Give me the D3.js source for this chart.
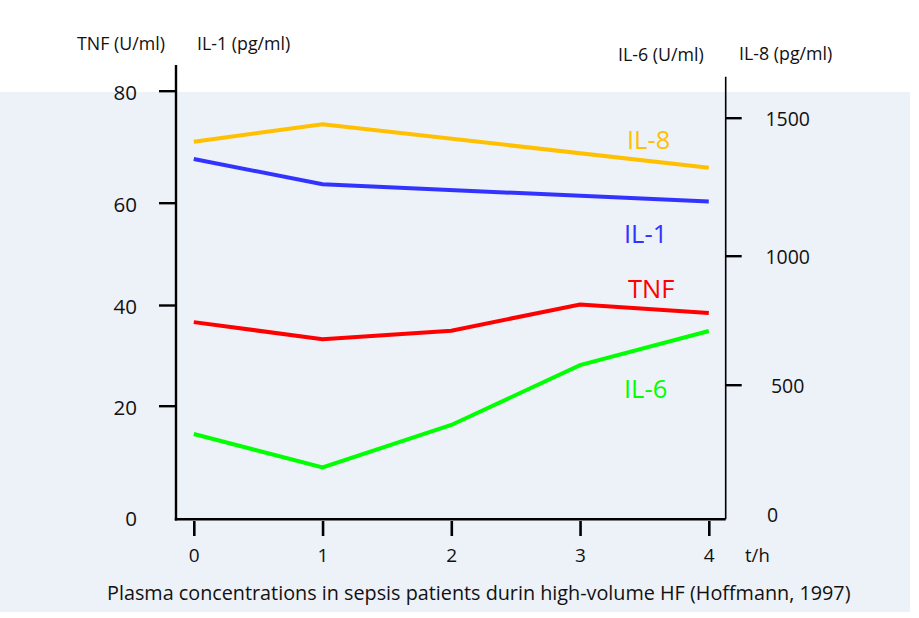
<!DOCTYPE html>
<html>
<head>
<meta charset="utf-8">
<script src="https://cdn.jsdelivr.net/npm/d3@7"></script>
<style>
  html, body { margin: 0; padding: 0; background: #ffffff; }
  svg { display: block; font-family: "Open Sans", "Noto Sans", sans-serif; }
</style>
</head>
<body>
<svg id="chart" width="919" height="618"></svg>
<script>
// ---- data ----
const hours = [0, 1, 2, 3, 4];
const xTickLabels = ["0", "1", "2", "3", "4"];
const leftTicks = [0, 20, 40, 60, 80];
const rightTicks = [0, 500, 1000, 1500];

const tnfHours = [0, 1, 2, 3, 4];
const tnfValues = [36.6, 33.2, 34.9, 40.1, 38.4];      // U/ml, left axis
const il1Hours = [0, 1, 4];
const il1Values = [67.8, 63.3, 60.2];                  // pg/ml, left axis
const il6Hours = [0, 1, 2, 3, 4];
const il6Values = [308, 178, 343, 576, 708];           // U/ml, right axis
const il8Hours = [0, 1, 4];
const il8Values = [1413, 1476, 1319];                  // pg/ml, right axis

const seriesNames = ["IL-8", "IL-1", "TNF", "IL-6"];
const caption = "Plasma concentrations in sepsis patients durin high-volume HF (Hoffmann, 1997)";

// ---- layout ----
const svg = d3.select("#chart");
const colors = { "IL-8": "#ffc000", "IL-1": "#3333ff", "TNF": "#ff0000", "IL-6": "#00ff00" };

svg.append("rect").attr("x", 0).attr("y", 92).attr("width", 910).attr("height", 520).attr("fill", "#edf1f8");

const x = d3.scaleLinear().domain([0, 4]).range([193.8, 708.8]);
const yL = d3.scaleLinear().domain(leftTicks).range([517, 405.7, 305, 202.7, 90.7]);
const yR = d3.scaleLinear().domain(rightTicks).range([513, 384.7, 255.7, 117.7]);

const leftX = 176, rightX = 725.7, baseY = 519.3;

// axis lines
svg.append("line").attr("x1", leftX).attr("x2", leftX).attr("y1", 65).attr("y2", baseY + 1.2)
  .attr("stroke", "#000").attr("stroke-width", 2.4);
svg.append("line").attr("x1", leftX - 1.2).attr("x2", rightX).attr("y1", baseY).attr("y2", baseY)
  .attr("stroke", "#000").attr("stroke-width", 2.4);
svg.append("line").attr("x1", rightX).attr("x2", rightX).attr("y1", 76.7).attr("y2", baseY)
  .attr("stroke", "#000").attr("stroke-width", 1.6);

// left axis
const gL = svg.append("g").attr("transform", `translate(${leftX},0)`)
  .call(d3.axisLeft(yL).tickValues(leftTicks).tickSize(17).tickPadding(22).tickFormat(d3.format("d")));
gL.select(".domain").remove();
gL.selectAll(".tick line").attr("stroke", "#000").attr("stroke-width", 2.4)
  .filter(d => d === 0).remove();
gL.selectAll(".tick text").attr("font-size", 20.5).attr("fill", "#111").attr("font-family", "Open Sans")
  .attr("dy", "0.42em");

// right axis
const gR = svg.append("g").attr("transform", `translate(${rightX},0)`)
  .call(d3.axisRight(yR).tickValues(rightTicks).tickSize(16).tickFormat(d3.format("d")));
gR.select(".domain").remove();
gR.selectAll(".tick line").attr("stroke", "#000").attr("stroke-width", 2.4)
  .filter(d => d === 0).remove();
gR.selectAll(".tick text").attr("font-size", 19.5).attr("fill", "#111").attr("font-family", "Open Sans")
  .attr("text-anchor", "middle").attr("x", d => d === 0 ? 47 : 62).attr("dy", "0.42em");

// bottom axis
const gB = svg.append("g").attr("transform", `translate(0,521)`)
  .call(d3.axisBottom(x).tickValues(hours).tickSize(15).tickFormat((d, i) => xTickLabels[i]));
gB.select(".domain").remove();
gB.selectAll(".tick line").attr("stroke", "#000").attr("stroke-width", 2.6);
gB.selectAll(".tick text").attr("font-size", 19).attr("fill", "#111").attr("font-family", "Open Sans")
  .attr("y", 34).attr("dy", "0.36em");

svg.append("text").attr("x", 745).attr("y", 555).attr("dy", "0.36em").attr("font-size", 18.5)
  .attr("fill", "#111").text("t/h");

// axis titles
const titles = [
  { t: "TNF (U/ml)", x: 77, y: 44 },
  { t: "IL-1 (pg/ml)", x: 197, y: 44 },
  { t: "IL-6 (U/ml)", x: 618, y: 55 },
  { t: "IL-8 (pg/ml)", x: 739, y: 54 }
];
svg.selectAll("text.title").data(titles).enter().append("text").attr("class", "title")
  .attr("x", d => d.x).attr("y", d => d.y).attr("dy", "0.36em")
  .attr("font-size", 17.8).attr("fill", "#111").text(d => d.t);

// lines
const series = [
  { name: "IL-8", hrs: il8Hours, vals: il8Values, y: yR },
  { name: "IL-1", hrs: il1Hours, vals: il1Values, y: yL },
  { name: "TNF", hrs: tnfHours, vals: tnfValues, y: yL },
  { name: "IL-6", hrs: il6Hours, vals: il6Values, y: yR }
];
series.forEach(s => {
  const pts = s.hrs.map((h, i) => [h, s.vals[i]]);
  svg.append("path").datum(pts)
    .attr("fill", "none").attr("stroke", colors[s.name]).attr("stroke-width", 4)
    .attr("stroke-linejoin", "miter")
    .attr("d", d3.line().x(d => x(d[0])).y(d => s.y(d[1])));
});

// series labels
const labelPos = { "IL-8": [627, 140], "IL-1": [624, 234], "TNF": [628, 289], "IL-6": [624, 389] };
seriesNames.forEach(n => {
  svg.append("text").attr("x", labelPos[n][0]).attr("y", labelPos[n][1]).attr("dy", "0.36em")
    .attr("font-size", 25.5).attr("fill", colors[n]).text(n);
});

// caption
svg.append("text").attr("x", 107).attr("y", 593).attr("dy", "0.36em")
  .attr("font-size", 19.8).attr("fill", "#111").text(caption);
</script>
</body>
</html>
